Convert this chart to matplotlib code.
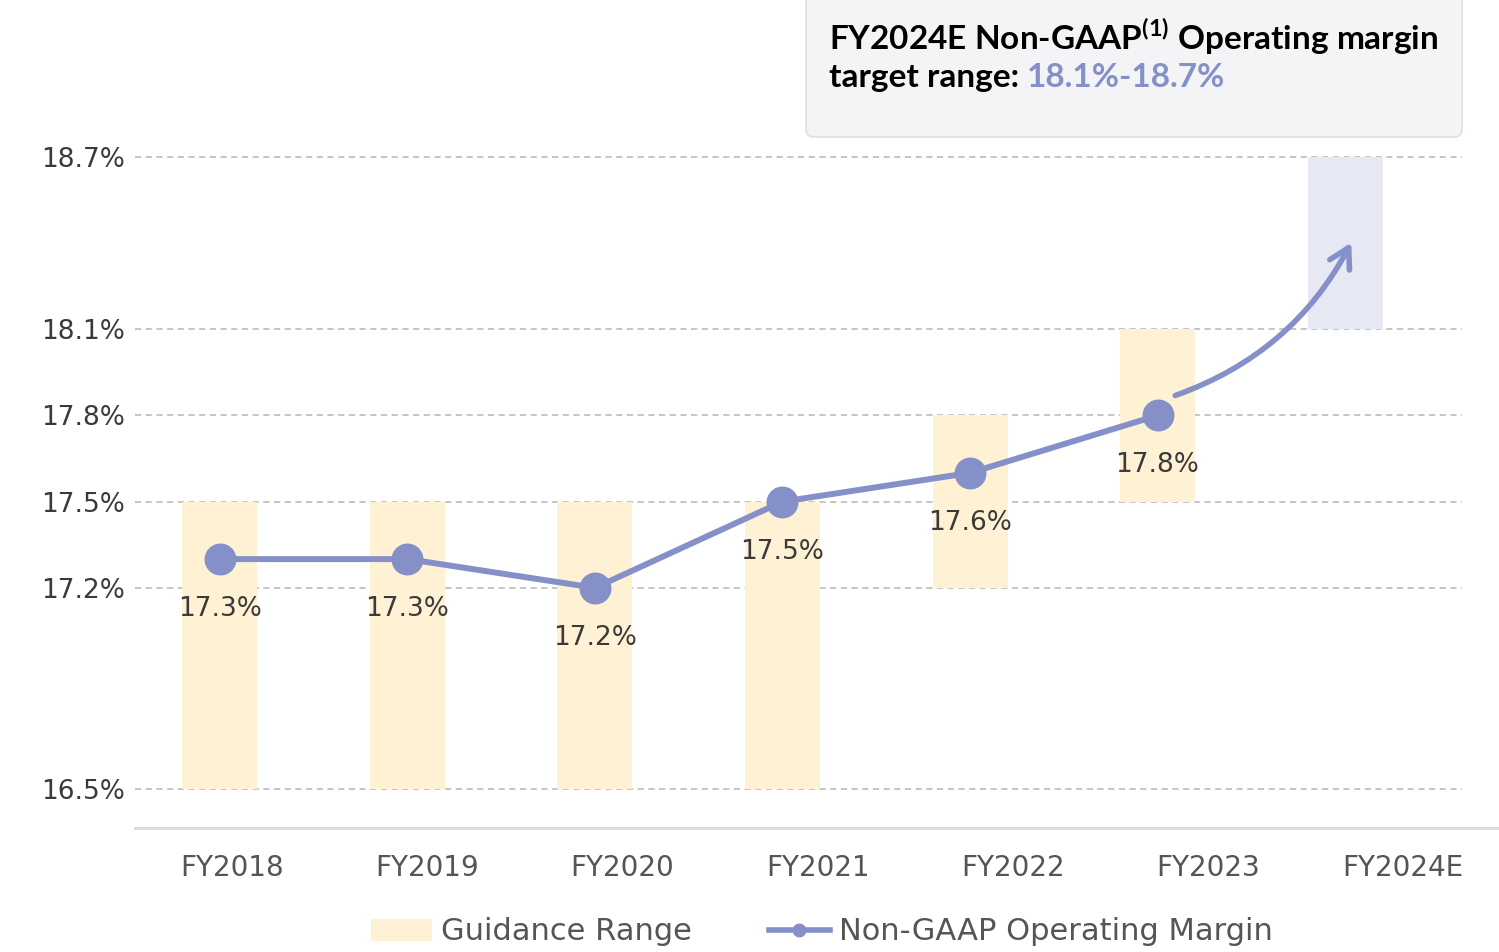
import matplotlib
matplotlib.use("Agg")
import matplotlib.pyplot as plt
from matplotlib.patches import FancyBboxPatch, FancyArrowPatch, Patch
from matplotlib.lines import Line2D

plt.rcParams["font.family"] = ["DejaVu Sans"]
plt.rcParams["mathtext.fontset"] = "custom"
plt.rcParams["mathtext.bf"] = "Lato:bold"
plt.rcParams["mathtext.rm"] = "Lato:bold"

years = ["FY2018", "FY2019", "FY2020", "FY2021", "FY2022", "FY2023", "FY2024E"]
guide_low = [16.5, 16.5, 16.5, 16.5, 17.2, 17.5, 18.1]
guide_high = [17.5, 17.5, 17.5, 17.5, 17.8, 18.1, 18.7]
margin = [17.3, 17.3, 17.2, 17.5, 17.6, 17.8]
ytick_vals = [16.5, 17.2, 17.5, 17.8, 18.1, 18.7]

PURPLE = "#8590c9"
CREAM = "#fff1d4"
LILAC = "#e6e8f4"
TXT = "#3a3a3a"

fig = plt.figure(figsize=(14.99, 9.52), dpi=100)
ax = fig.add_axes([135 / 1499, 124 / 952, 1364 / 1499, 828 / 952])
ax.set_xlim(-0.453, 6.821)
ax.set_ylim(16.364, 19.246)

# guidance range bars
xs = list(range(len(years)))
cols = [CREAM] * 6 + [LILAC]
ax.bar(xs, [h - l for l, h in zip(guide_low, guide_high)], bottom=guide_low,
       width=0.4, color=cols, zorder=2)

# dashed grid lines (stop short of the right edge)
for v in ytick_vals:
    ax.axhline(v, xmin=0, xmax=(1462 - 135) / 1364, color="#b5b5b5",
               lw=1.1, ls=(0, (4, 3)), zorder=1)

ax.plot(xs[:6], margin, color=PURPLE, lw=4.3, marker="o", ms=22,
        zorder=4)
for x, v in zip(xs, margin):
    ax.annotate(f"{v:.1f}%", (x, v), xytext=(0, -36), textcoords="offset points",
                ha="center", va="center", fontsize=19, color=TXT, zorder=5)

# curved arrow toward target range
arr = FancyArrowPatch((5.08, 17.866), (6.04, 18.41),
                      connectionstyle="arc3,rad=0.2",
                      arrowstyle="->,head_length=14,head_width=8",
                      color=PURPLE, lw=4, zorder=5)
ax.add_patch(arr)

ax.set_yticks(ytick_vals)
ax.set_yticklabels([f"{v:.1f}%" for v in ytick_vals], fontsize=19, color=TXT)
ax.tick_params(axis="y", length=0, pad=7)
ax.set_xticks([])
for s in ["top", "right", "left"]:
    ax.spines[s].set_visible(False)
ax.spines["bottom"].set_color("#dcdcdc")
ax.spines["bottom"].set_linewidth(2.2)

# category labels sit on their own spacing
ax2 = ax.twiny()
ax2.set_xlim(-0.497, 6.491)
ax2.xaxis.set_ticks_position("bottom")
ax2.set_xticks(xs)
ax2.set_xticklabels(years, fontsize=20, color="#555555")
ax2.tick_params(axis="x", length=0, pad=19)
for s in ax2.spines.values():
    s.set_visible(False)

# target range call-out box
box = FancyBboxPatch((8.06, 8.15), 6.56, 1.6, boxstyle="round,pad=0,rounding_size=0.08",
                     transform=fig.dpi_scale_trans, facecolor="#f4f4f6",
                     edgecolor="#dedfe8", lw=1.2, zorder=0)
fig.patches.append(box)
fig.text(829 / 1499, (952 - 50) / 952, r"FY2024E Non-GAAP$^{\mathbf{(1)}}$ Operating margin",
         fontsize=24, fontweight="bold", color="black", va="baseline", ha="left",
         family="Lato")
t2 = fig.text(829 / 1499, (952 - 87) / 952, "target range: ", fontsize=24,
              fontweight="bold", color="black", va="baseline", ha="left", family="Lato")
fig.add_artist(plt.Annotation("18.1%-18.7%", xy=(1, 0), xycoords=t2, va="bottom",
                              ha="left", fontsize=24, fontweight="bold", color=PURPLE,
                              family="Lato"))

handles = [Patch(facecolor=CREAM, edgecolor="none"),
           Line2D([0], [0], color=PURPLE, lw=4, marker="o", ms=9)]
fig.legend(handles, ["Guidance Range", "Non-GAAP Operating Margin"], loc="center",
           bbox_to_anchor=(822 / 1499, 20 / 952), ncol=2, frameon=False, fontsize=22,
           handlelength=2.0, handletextpad=0.3, columnspacing=2.5, labelcolor="#555555")

fig.savefig("out.png", dpi=100)
